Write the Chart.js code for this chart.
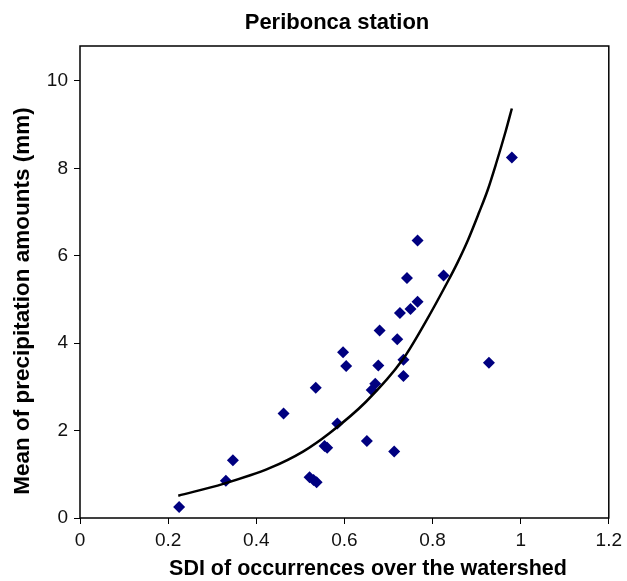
<!DOCTYPE html>
<html>
<head>
<meta charset="utf-8">
<script src="https://cdn.jsdelivr.net/npm/chart.js@4"></script>
<style>
html,body{margin:0;padding:0;background:#fff;}
#wrap{width:627px;height:581px;}
</style>
</head>
<body>
<div id="wrap"><canvas id="c" width="627" height="581"></canvas></div>
<script>
// Observed points: SDI (x) and mean precipitation (y)
const sdiValues = [0.225,0.331,0.347,0.462,0.521,0.530,0.537,0.535,0.555,0.561,0.584,0.597,0.604,0.651,0.662,0.670,0.677,0.680,0.713,0.720,0.726,0.734,0.734,0.742,0.750,0.766,0.766,0.825,0.928,0.980];
const precipValues = [0.25,0.85,1.32,2.39,0.93,0.87,0.82,2.98,1.65,1.61,2.16,3.79,3.48,1.76,2.93,3.07,3.49,4.29,1.52,4.09,4.69,3.62,3.25,5.49,4.78,4.95,6.35,5.55,3.55,8.25];
// Trend curve
const trendX = [0.223,0.325,0.430,0.506,0.566,0.649,0.732,0.785,0.834,0.857,0.880,0.906,0.925,0.944,0.966,0.980];
const trendY = [0.51,0.78,1.14,1.52,1.94,2.66,3.62,4.50,5.40,5.85,6.35,7.00,7.50,8.10,8.85,9.37];
const xTicks = [0,0.2,0.4,0.6,0.8,1,1.2];
const yTicks = [0,2,4,6,8,10];
const chartTitle = "Peribonca station";
const xTitle = "SDI of occurrences over the watershed";
const yTitle = "Mean of precipitation amounts (mm)";

const FONT = "'Liberation Sans', Arial, sans-serif";

const frame = {
  id: 'frame',
  afterDraw(chart) {
    const {ctx, chartArea: a} = chart;
    ctx.save();
    ctx.strokeStyle = '#000';
    ctx.lineWidth = 1.5;
    ctx.strokeRect(a.left, a.top, a.right - a.left, a.bottom - a.top);
    ctx.fillStyle = '#000';
    ctx.textAlign = 'center';
    ctx.textBaseline = 'middle';
    ctx.font = "bold 22px " + FONT;
    ctx.fillText(chartTitle, 337, 23);
    ctx.font = "bold 21.5px " + FONT;
    ctx.fillText(xTitle, 368, 569);
    ctx.font = "bold 22.5px " + FONT;
    ctx.translate(23, 301);
    ctx.rotate(-Math.PI / 2);
    ctx.fillText(yTitle, 0, 0);
    ctx.restore();
  }
};

new Chart(document.getElementById('c'), {
  type: 'scatter',
  data: {
    datasets: [
      {
        label: 'Observed',
        data: sdiValues.map((x, i) => ({x, y: precipValues[i]})),
        pointStyle: 'rectRot',
        pointRadius: 6,
        backgroundColor: '#000080',
        borderColor: '#000080',
        borderWidth: 0,
        order: 2
      },
      {
        label: 'Trend',
        type: 'line',
        data: trendX.map((x, i) => ({x, y: trendY[i]})),
        borderColor: '#000',
        borderWidth: 2.5,
        pointRadius: 0,
        cubicInterpolationMode: 'monotone',
        fill: false,
        order: 1
      }
    ]
  },
  options: {
    responsive: false,
    animation: false,
    layout: {padding: {top: 46, right: 14, left: 0, bottom: 0}},
    plugins: {legend: {display: false}, title: {display: false}, tooltip: {enabled: false}},
    scales: {
      x: {
        type: 'linear', min: 0, max: 1.2,
        afterBuildTicks: s => { s.ticks = xTicks.map(v => ({value: v})); },
        afterFit: s => { s.height = 63; },
        grid: {drawOnChartArea: false, drawTicks: true, tickLength: 6, color: '#000'},
        border: {display: false},
        ticks: {color: '#111', font: {family: FONT, size: 19}, padding: 5, maxRotation: 0,
                callback: v => String(v)}
      },
      y: {
        type: 'linear', min: 0, max: 10.8,
        afterBuildTicks: s => { s.ticks = yTicks.map(v => ({value: v})); },
        afterFit: s => { s.width = 80; },
        grid: {drawOnChartArea: false, drawTicks: true, tickLength: 6, color: '#000'},
        border: {display: false},
        ticks: {color: '#111', font: {family: FONT, size: 19}, padding: 6,
                callback: v => String(v)}
      }
    }
  },
  plugins: [frame]
});
</script>
</body>
</html>
